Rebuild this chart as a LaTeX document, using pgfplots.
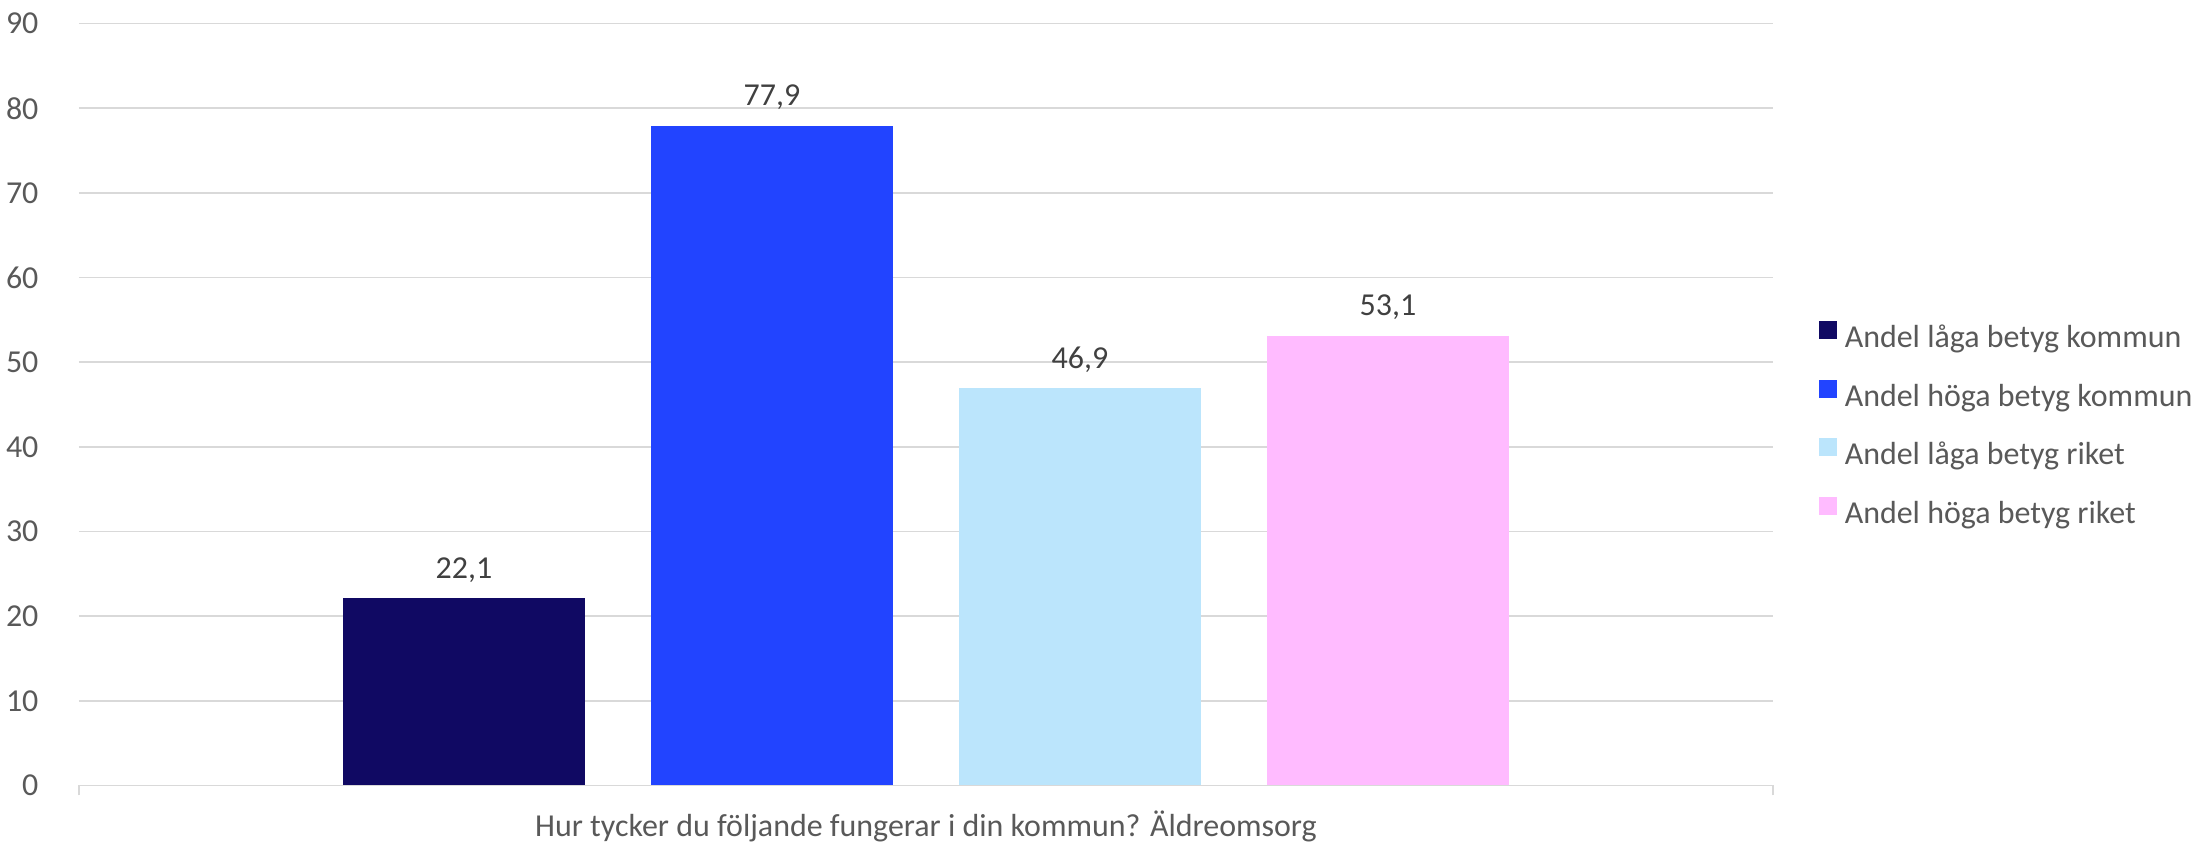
\documentclass[border=0pt]{standalone}
\usepackage{pgfplots}
\pgfplotsset{compat=1.18}
\usepackage{fontspec}
\setmainfont{Carlito}
\definecolor{c1}{HTML}{100963}
\definecolor{c2}{HTML}{2244FF}
\definecolor{c3}{HTML}{BBE5FC}
\definecolor{c4}{HTML}{FFBBFF}
\definecolor{gridc}{HTML}{D9D9D9}
\definecolor{tickc}{HTML}{595959}
\definecolor{labc}{HTML}{404040}
\begin{document}
\begin{tikzpicture}
\useasboundingbox (0pt,0pt) rectangle (732.67pt,281.33pt);
\begin{axis}[
  at={(26.33pt,19.5pt)}, anchor=south west,
  scale only axis, width=564.67pt, height=253.97pt,
  xmin=0, xmax=5.5, ymin=0, ymax=90,
  ytick={0,10,...,90},
  ymajorgrids, grid style={gridc, line width=0.6pt},
  axis line style={draw=none},
  xtick={0,5.5}, xticklabels={},
  xtick pos=bottom, ytick pos=left,
  tick align=outside,
  major tick length=3.33pt,
  xtick style={gridc, line width=0.6pt},
  ytick style={draw=none},
  extra x ticks={2.75},
  extra x tick labels={Hur tycker du följande fungerar i din kommun? Äldreomsorg},
  extra x tick style={major tick length=0pt, xticklabel style={anchor=base, inner sep=0pt, yshift=-17pt}},
  font=\fontsize{10.65}{12.8}\selectfont,
  tick label style={font=\fontsize{10.65}{12.8}\selectfont, text=tickc},
  /pgf/number format/assume math mode=true,
  yticklabel style={anchor=east, inner sep=0pt, xshift=-10pt},
  nodes near coords={\pgfmathprintnumber[use comma,fixed,fixed zerofill,precision=1]{\pgfplotspointmeta}},
  every node near coord/.append style={font=\fontsize{10.65}{12.8}\selectfont, text=labc, anchor=base, inner sep=0pt, yshift=6.8pt},
  legend style={at={(1.0266,0.4718)}, anchor=west, draw=none, fill=none, inner sep=0pt,
    font=\fontsize{10.65}{12.8}\selectfont, text=tickc, cells={anchor=west},
    nodes={inner sep=0pt, text height=7.5pt, text depth=2.5pt},
    row sep=8.2pt},
  legend image code/.code={\fill[#1] (0pt,0.3pt) rectangle (6pt,6.3pt);},
  legend cell align=left,
]
\addplot[ybar, bar width=0.786, fill=c1, draw=none] coordinates {(1.25,22.1)};
\addlegendentry{\hspace{2.7pt}Andel låga betyg kommun}
\addplot[ybar, bar width=0.786, fill=c2, draw=none] coordinates {(2.25,77.9)};
\addlegendentry{\hspace{2.7pt}Andel höga betyg kommun}
\addplot[ybar, bar width=0.786, fill=c3, draw=none] coordinates {(3.25,46.9)};
\addlegendentry{\hspace{2.7pt}Andel låga betyg riket}
\addplot[ybar, bar width=0.786, fill=c4, draw=none] coordinates {(4.25,53.1)};
\addlegendentry{\hspace{2.7pt}Andel höga betyg riket}
\end{axis}
\end{tikzpicture}
\end{document}
